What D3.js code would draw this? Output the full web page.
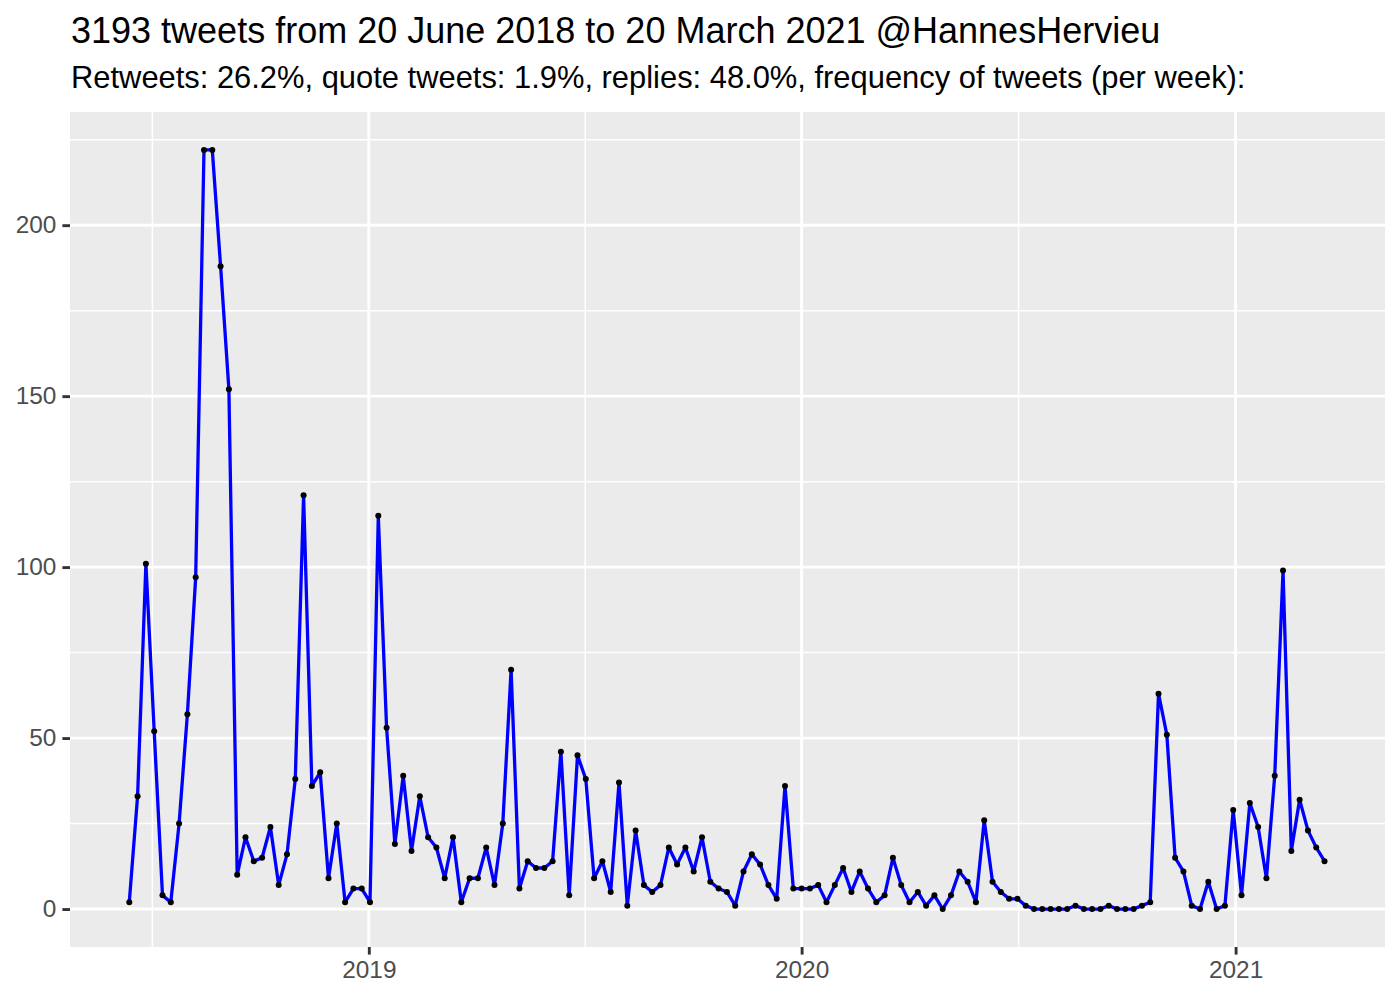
<!DOCTYPE html>
<html>
<head>
<meta charset="utf-8">
<script src="https://cdn.jsdelivr.net/npm/d3@7"></script>
<style>
  html, body { margin: 0; padding: 0; background: #ffffff; }
  svg { display: block; }
  text { font-family: "Liberation Sans", Arial, Helvetica, sans-serif; }
</style>
</head>
<body>
<div id="chart"></div>
<script>
// ---------- data ----------
const titleText = "3193 tweets from 20 June 2018 to 20 March 2021 @HannesHervieu";
const subtitleText = "Retweets: 26.2%, quote tweets: 1.9%, replies: 48.0%, frequency of tweets (per week):";

// first weekly bin and number of weeks (one value per week)
const firstWeek = "2018-06-13";
const tweetsPerWeek = [
  2, 33, 101, 52, 4, 2, 25, 57, 97, 222,
  222, 188, 152, 10, 21, 14, 15, 24, 7, 16,
  38, 121, 36, 40, 9, 25, 2, 6, 6, 2,
  115, 53, 19, 39, 17, 33, 21, 18, 9, 21,
  2, 9, 9, 18, 7, 25, 70, 6, 14, 12,
  12, 14, 46, 4, 45, 38, 9, 14, 5, 37,
  1, 23, 7, 5, 7, 18, 13, 18, 11, 21,
  8, 6, 5, 1, 11, 16, 13, 7, 3, 36,
  6, 6, 6, 7, 2, 7, 12, 5, 11, 6,
  2, 4, 15, 7, 2, 5, 1, 4, 0, 4,
  11, 8, 2, 26, 8, 5, 3, 3, 1, 0,
  0, 0, 0, 0, 1, 0, 0, 0, 1, 0,
  0, 0, 1, 2, 63, 51, 15, 11, 1, 0,
  8, 0, 1, 29, 4, 31, 24, 9, 39, 99,
  17, 32, 23, 18, 14
];

const yTicks = [0, 50, 100, 150, 200];
const yMinorTicks = [25, 75, 125, 175, 225];
const xTickLabels = ["2019", "2020", "2021"];
const xDomainStart = "2018-04-24";
const xDomainEnd = "2021-05-07";
const yDomain = [-11.1, 233.1];

// ---------- layout ----------
const W = 1400, H = 1000;
const panel = { left: 70, right: 1385, top: 112, bottom: 947 };

const parse = d3.utcParse("%Y-%m-%d");
const start = parse(firstWeek);
const weeks = tweetsPerWeek.map((v, i) => ({ date: d3.utcDay.offset(start, 7 * i), value: v }));

const x = d3.scaleUtc()
  .domain([parse(xDomainStart), parse(xDomainEnd)])
  .range([panel.left, panel.right]);
const y = d3.scaleLinear()
  .domain(yDomain)
  .range([panel.bottom, panel.top]);

const xMajor = xTickLabels.map(s => parse(s + "-01-01"));
const allYears = [parse("2018-01-01"), ...xMajor, parse("2022-01-01")];
const xMinor = d3.pairs(allYears)
  .map(([a, b]) => new Date((a.getTime() + b.getTime()) / 2))
  .filter(d => d >= x.domain()[0] && d <= x.domain()[1]);

const svg = d3.select("#chart").append("svg")
  .attr("width", W).attr("height", H)
  .attr("viewBox", `0 0 ${W} ${H}`);

svg.append("rect").attr("width", W).attr("height", H).attr("fill", "#ffffff");

// panel background
svg.append("rect")
  .attr("x", panel.left).attr("y", panel.top)
  .attr("width", panel.right - panel.left)
  .attr("height", panel.bottom - panel.top)
  .attr("fill", "#EBEBEB");

const grid = svg.append("g");
// minor grid
grid.selectAll("line.ymin").data(yMinorTicks).join("line")
  .attr("x1", panel.left).attr("x2", panel.right)
  .attr("y1", d => y(d)).attr("y2", d => y(d))
  .attr("stroke", "#ffffff").attr("stroke-width", 1.5);
grid.selectAll("line.xmin").data(xMinor).join("line")
  .attr("y1", panel.top).attr("y2", panel.bottom)
  .attr("x1", d => x(d)).attr("x2", d => x(d))
  .attr("stroke", "#ffffff").attr("stroke-width", 1.5);
// major grid
grid.selectAll("line.ymaj").data(yTicks).join("line")
  .attr("x1", panel.left).attr("x2", panel.right)
  .attr("y1", d => y(d)).attr("y2", d => y(d))
  .attr("stroke", "#ffffff").attr("stroke-width", 2.9);
grid.selectAll("line.xmaj").data(xMajor).join("line")
  .attr("y1", panel.top).attr("y2", panel.bottom)
  .attr("x1", d => x(d)).attr("x2", d => x(d))
  .attr("stroke", "#ffffff").attr("stroke-width", 2.9);

// axes
const yAxis = d3.axisLeft(y).tickValues(yTicks).tickSize(7.6).tickPadding(6);
const gy = svg.append("g").attr("transform", `translate(${panel.left},0)`).call(yAxis);
gy.select(".domain").remove();
gy.selectAll(".tick line").attr("stroke", "#333333").attr("stroke-width", 2.9);
gy.selectAll(".tick text")
  .attr("fill", "#4D4D4D").attr("font-size", 24.4)
  .attr("font-family", "'Liberation Sans', Arial, sans-serif");

const xAxis = d3.axisBottom(x).tickValues(xMajor)
  .tickFormat((d, i) => xTickLabels[i]).tickSize(7.6).tickPadding(6);
const gx = svg.append("g").attr("transform", `translate(0,${panel.bottom})`).call(xAxis);
gx.select(".domain").remove();
gx.selectAll(".tick line").attr("stroke", "#333333").attr("stroke-width", 2.9);
gx.selectAll(".tick text")
  .attr("fill", "#4D4D4D").attr("font-size", 24.4)
  .attr("font-family", "'Liberation Sans', Arial, sans-serif");

// line + points
const line = d3.line().x(d => x(d.date)).y(d => y(d.value));
svg.append("path").datum(weeks)
  .attr("d", line)
  .attr("fill", "none")
  .attr("stroke", "#0000FF")
  .attr("stroke-width", 3.3)
  .attr("stroke-linejoin", "round");
svg.append("g").selectAll("circle").data(weeks).join("circle")
  .attr("cx", d => x(d.date)).attr("cy", d => y(d.value))
  .attr("r", 3).attr("fill", "#000000");

// titles
svg.append("text").attr("x", panel.left + 1).attr("y", 43)
  .attr("font-size", 36.0).attr("fill", "#000000").text(titleText);
svg.append("text").attr("x", panel.left + 1).attr("y", 88)
  .attr("font-size", 30.9).attr("fill", "#000000").text(subtitleText);
</script>
</body>
</html>
